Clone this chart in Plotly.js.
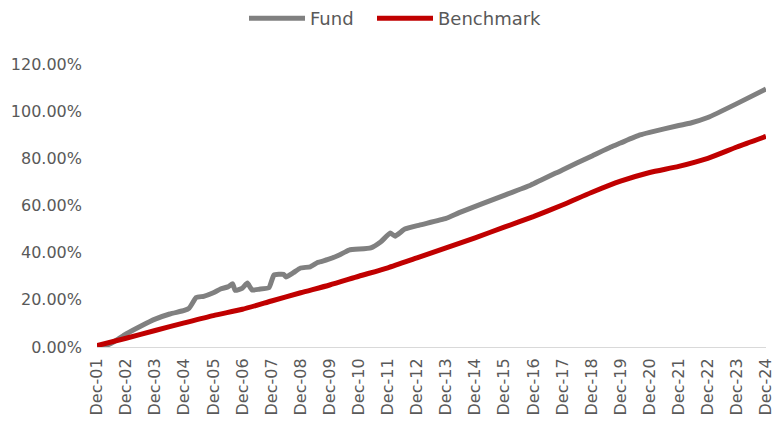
<!DOCTYPE html>
<html>
<head>
<meta charset="utf-8">
<script src="https://cdn.plot.ly/plotly-3.0.1.min.js"></script>
<style>html,body{margin:0;padding:0;background:#fff;}#chart{width:777px;height:428px;}</style>
</head>
<body>
<div id="chart"></div>
<script>
// Fund cumulative return (%)
const fundDates = ["2001-12-01","2002-03-01","2002-07-01","2002-12-01","2003-06-01","2003-12-01","2004-06-01","2004-12-01","2005-02-01","2005-05-01","2005-08-01","2005-12-01","2006-03-01","2006-06-01","2006-08-01","2006-09-01","2006-12-01","2007-02-01","2007-04-01","2007-07-01","2007-11-01","2008-01-01","2008-05-01","2008-06-01","2008-09-01","2008-12-01","2009-04-01","2009-07-01","2009-11-01","2010-04-01","2010-08-01","2011-05-01","2011-09-01","2012-01-01","2012-03-01","2012-07-01","2013-01-01","2013-12-01","2014-06-01","2015-12-01","2016-11-01","2017-12-01","2018-12-01","2019-08-01","2019-12-01","2020-08-01","2020-12-01","2021-12-01","2022-05-01","2022-12-01","2023-12-01","2024-12-01"];
const fundValues = [0.0,0.3,2.2,5.5,8.8,11.8,14.0,15.5,16.5,21.0,21.5,23.0,24.6,25.5,26.8,24.0,25.0,27.1,24.2,24.5,25.2,30.5,30.8,29.7,31.5,33.5,34.0,35.8,37.0,39.0,41.1,42.0,44.5,48.3,47.0,50.0,51.7,54.5,57.2,64.3,68.7,75.1,80.9,84.8,86.5,89.9,91.0,93.9,95.0,97.3,103.2,109.4];

// Benchmark cumulative return (%), one reading per December
const benchDates = ["2001-12-01","2002-12-01","2003-12-01","2004-12-01","2005-12-01","2006-12-01","2007-12-01","2008-12-01","2009-12-01","2010-12-01","2011-12-01","2012-12-01","2013-12-01","2014-12-01","2015-12-01","2016-12-01","2017-12-01","2018-12-01","2019-12-01","2020-12-01","2021-12-01","2022-12-01","2023-12-01","2024-12-01"];
const benchValues = [0.6,3.7,7.0,10.2,13.3,16.0,19.5,23.0,26.3,30.0,33.6,37.8,42.0,46.3,50.8,55.3,60.2,65.5,70.3,74.0,76.6,80.0,84.8,89.3];

const tickDates = benchDates;
const tickLabels = ["Dec-01","Dec-02","Dec-03","Dec-04","Dec-05","Dec-06","Dec-07","Dec-08","Dec-09","Dec-10","Dec-11","Dec-12","Dec-13","Dec-14","Dec-15","Dec-16","Dec-17","Dec-18","Dec-19","Dec-20","Dec-21","Dec-22","Dec-23","Dec-24"];
const yTicks = [0,20,40,60,80,100,120];
const yTickLabels = ["0.00%","20.00%","40.00%","60.00%","80.00%","100.00%","120.00%"];

const FONT = "'DejaVu Sans', sans-serif";
const traces = [
  {x: fundDates, y: fundValues, name: "Fund", mode: "lines", type: "scatter", legend: "legend",
   line: {color: "#808080", width: 5, shape: "spline", smoothing: 0.4}},
  {x: benchDates, y: benchValues, name: "Benchmark", mode: "lines", type: "scatter", legend: "legend2",
   line: {color: "#C00000", width: 5, shape: "spline", smoothing: 0.6}}
];
const legendBase = {orientation: "h", xanchor: "left", xref: "container",
  y: 1.0, yanchor: "top", yref: "container", bgcolor: "rgba(0,0,0,0)", itemwidth: 56,
  font: {family: FONT, size: 18, color: "#595959"}};
const layout = {
  width: 777, height: 428,
  margin: {l: 97, r: 11, t: 64, b: 81},
  paper_bgcolor: "#ffffff", plot_bgcolor: "#ffffff",
  font: {family: FONT, size: 16, color: "#595959"},
  showlegend: true,
  legend: Object.assign({}, legendBase, {x: 244 / 777}),
  legend2: Object.assign({}, legendBase, {x: 372 / 777}),
  xaxis: {type: "date", range: ["2001-12-01","2024-12-01"],
          tickmode: "array", tickvals: tickDates, ticktext: tickLabels, tickangle: -90,
          showgrid: false, zeroline: false, showline: true, linecolor: "#D9D9D9", linewidth: 1,
          ticks: "", ticklabelstandoff: 4,
          tickfont: {family: FONT, size: 16, color: "#595959"}},
  yaxis: {range: [0, 120], tickmode: "array", tickvals: yTicks, ticktext: yTickLabels,
          showgrid: false, zeroline: false, showline: false, ticks: "",
          ticklabelstandoff: 14,
          tickfont: {family: FONT, size: 16, color: "#595959"}}
};
Plotly.newPlot("chart", traces, layout, {displayModeBar: false, staticPlot: true});
</script>
</body>
</html>
